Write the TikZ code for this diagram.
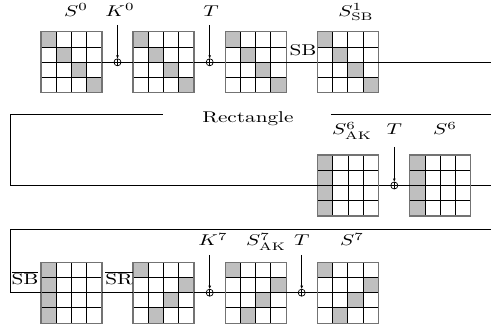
\documentclass[tikz,border=0pt]{standalone}
\usetikzlibrary{arrows.meta,calc}
\newcommand\stx[1]{\scalebox{1.36}[1]{#1}}
\tikzset{
  cellfill/.style={fill=black!25},
  gridline/.style={line width=0.64pt,black},
  gridframe/.style={line width=0.8pt,black!55},
  gridnode/.style={inner sep=0pt,outer sep=0pt,minimum width=39.04pt,minimum height=39.04pt},
  xorsym/.style={circle,draw,line width=0.45pt,inner sep=0pt,outer sep=0pt,minimum size=4.5pt,
    path picture={\draw[line width=0.45pt] (path picture bounding box.north) -- (path picture bounding box.south)
      (path picture bounding box.west) -- (path picture bounding box.east);}},
  conn/.style={line width=0.5pt},
  keyarrow/.style={line width=0.5pt,-{Latex[length=2.2pt,width=1.8pt]}},
  lbl/.style={inner sep=0pt,anchor=base},
  frameline/.style={line width=0.5pt}
}
\newcommand\cellgrid[4]{%
  \node[gridnode] (#1) at (#2,#3) {};
  \foreach \cc/\rr in {#4} {\fill[cellfill] ($(#1.north west)+(\cc*15.25,\rr*15.25)$) rectangle +(15.25,15.25);}
  \foreach \ii in {1,2,3} {%
    \draw[gridline] ($(#1.north west)+(\ii*15.25,0)$) -- +(0,61);
    \draw[gridline] ($(#1.north west)+(0,\ii*15.25)$) -- +(61,0);}
  \draw[gridframe] (#1.north west) rectangle (#1.south east);
}
\begin{document}
\begin{tikzpicture}[x=0.64pt,y=-0.64pt]
\useasboundingbox (0,0) rectangle (491,333);
% ---------- row 1
\cellgrid{g1}{71.5}{62.3}{0/0,1/1,2/2,3/3}
\cellgrid{g2}{163.6}{62.3}{0/0,1/1,2/2,3/3}
\cellgrid{g3}{255.7}{62.3}{0/0,1/1,2/2,3/3}
\cellgrid{g4}{347.8}{62.3}{0/0,1/1,2/2,3/3}
\node[xorsym] (x1) at (117.5,62.3) {};
\node[xorsym] (x2) at (209.7,62.3) {};
\coordinate (e1) at (491,62.3);
\coordinate (k0) at (117.5,25);
\coordinate (t1) at (209.7,25);
\draw[conn] (g1.east) -- (x1.west) (x1.east) -- (g2.west)
  (g2.east) -- (x2.west) (x2.east) -- (g3.west)
  (g3.east) -- (g4.west) (g4.east) -- (e1);
\draw[keyarrow] (k0) -- (x1.north);
\draw[keyarrow] (t1) -- (x2.north);
\node[lbl] (ls0) at (76,16.5) {\stx{$S^{0}$}};
\node[lbl] (lk0) at (120,16.5) {\stx{$K^{0}$}};
\node[lbl] (lt1) at (211,16.5) {\stx{$T$}};
\node[lbl] (ls1) at (356,16.5) {\stx{$S^{1}_{\mathrm{SB}}$}};
\node[lbl] (lsb) at (303,56) {\stx{SB}};
% ---------- row 2
\cellgrid{g5}{348.1}{185.5}{0/0,0/1,0/2,0/3}
\cellgrid{g6}{440.3}{185.5}{0/0,0/1,0/2,0/3}
\node[xorsym] (x3) at (394.3,185.5) {};
\coordinate (r2a) at (163,114.3);
\coordinate (r2b) at (10,114.3);
\coordinate (r2c) at (10,185.5);
\coordinate (r2d) at (331,114.3);
\coordinate (r2e) at (491,114.3);
\coordinate (e2) at (491,185.5);
\coordinate (t2) at (394.3,147);
\draw[frameline] (r2a) -- (r2b) -- (r2c) -- (g5.west);
\draw[frameline] (r2d) -- (r2e);
\draw[conn] (g5.east) -- (x3.west) (x3.east) -- (g6.west) (g6.east) -- (e2);
\draw[keyarrow] (t2) -- (x3.north);
\node[lbl] (lrect) at (248,122.3) {\stx{Rectangle}};
\node[lbl] (ls6ak) at (352,135) {\stx{$S^{6}_{\mathrm{AK}}$}};
\node[lbl] (lt2) at (394.3,135) {\stx{$T$}};
\node[lbl] (ls6) at (445,135) {\stx{$S^{6}$}};
% ---------- row 3
\cellgrid{g7}{71.5}{292.7}{0/0,0/1,0/2,0/3}
\cellgrid{g8}{163.6}{292.7}{0/0,3/1,2/2,1/3}
\cellgrid{g9}{255.7}{292.7}{0/0,3/1,2/2,1/3}
\cellgrid{g10}{347.8}{292.7}{0/0,3/1,2/2,1/3}
\node[xorsym] (x4) at (209.7,292.7) {};
\node[xorsym] (x5) at (301.7,292.7) {};
\coordinate (r3a) at (491,229.3);
\coordinate (r3b) at (10,229.3);
\coordinate (r3c) at (10,292.7);
\coordinate (k7) at (209.7,255);
\coordinate (t3) at (301.7,255);
\draw[frameline] (r3a) -- (r3b) -- (r3c) -- (g7.west);
\draw[conn] (g7.east) -- (g8.west) (g8.east) -- (x4.west) (x4.east) -- (g9.west)
  (g9.east) -- (x5.west) (x5.east) -- (g10.west);
\draw[keyarrow] (k7) -- (x4.north);
\draw[keyarrow] (t3) -- (x5.north);
\node[lbl] (lsbbar) at (25,285) {\stx{$\overline{\mathrm{SB}}$}};
\node[lbl] (lsrbar) at (119,285) {\stx{$\overline{\mathrm{SR}}$}};
\node[lbl] (lk7) at (213,246) {\stx{$K^{7}$}};
\node[lbl] (ls7ak) at (266,246) {\stx{$S^{7}_{\mathrm{AK}}$}};
\node[lbl] (lt3) at (301.7,246) {\stx{$T$}};
\node[lbl] (ls7) at (352,246) {\stx{$S^{7}$}};
\end{tikzpicture}
\end{document}
